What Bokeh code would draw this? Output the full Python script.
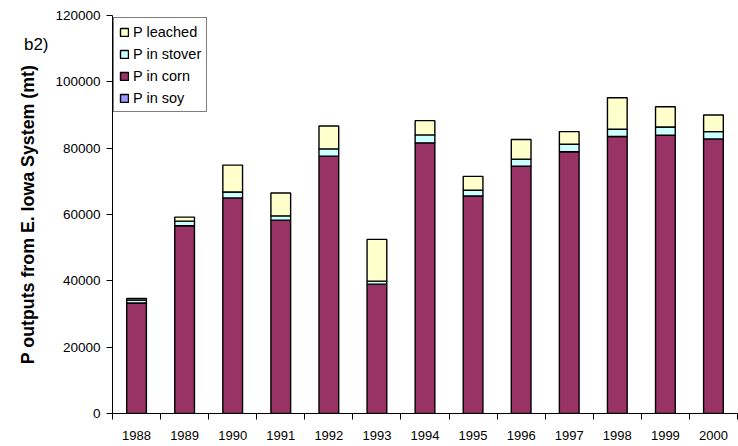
from bokeh.plotting import figure
from bokeh.models import (ColumnDataSource, FixedTicker, Legend, LegendItem,
                          Range1d, LinearAxis, BasicTickFormatter)
from bokeh.embed import file_html
from bokeh.resources import INLINE

years = ["1988", "1989", "1990", "1991", "1992", "1993", "1994",
         "1995", "1996", "1997", "1998", "1999", "2000"]
p_soy = [0, 0, 0, 0, 0, 0, 0, 0, 0, 0, 0, 0, 0]
p_corn = [33300, 56600, 65000, 58300, 77600, 39000, 81600, 65600, 74600, 78900, 83500, 83900, 82800]
p_stover = [900, 1400, 1800, 1300, 2200, 900, 2400, 1700, 2100, 2300, 2200, 2500, 2200]
p_leached = [500, 1200, 8100, 6900, 6900, 12600, 4300, 4200, 5900, 3800, 9500, 6100, 5000]
y_ticks = [0, 20000, 40000, 60000, 80000, 100000, 120000]
panel_tag = "b2)"
panel_tag_y = 111400

colors = {"soy": "#9999FF", "corn": "#993366", "stover": "#CCFFFF", "leached": "#FFFFCC"}

xs = list(range(len(years)))
src = ColumnDataSource(dict(x=xs, soy=p_soy, corn=p_corn, stover=p_stover, leached=p_leached))

FONT = "Liberation Sans"

p = figure(width=738, height=446, output_backend="svg", toolbar_location=None,
           x_range=Range1d(-0.5, len(years) - 0.5), y_range=Range1d(0, 120000),
           min_border_left=112, min_border_right=1, min_border_top=15, min_border_bottom=33,
           x_axis_type=None, y_axis_type=None)
p.outline_line_color = None
p.background_fill_color = "white"
p.border_fill_color = "white"

stackers = ["soy", "corn", "stover", "leached"]
renderers = p.vbar_stack(stackers, x="x", width=0.41, source=src,
                         color=[colors[s] for s in stackers],
                         line_color="black", line_width=1.4)
for r, s in zip(renderers, stackers):
    r.glyph.fill_color = colors[s]

# x axis: labels at bar centres, ticks between categories
xaxis = LinearAxis(ticker=FixedTicker(ticks=xs, minor_ticks=[i - 0.5 for i in range(len(years) + 1)]),
                   major_label_overrides={i: y for i, y in enumerate(years)})
xaxis.major_tick_line_color = None
xaxis.major_tick_in = 0
xaxis.major_tick_out = 0
xaxis.minor_tick_in = 0
xaxis.minor_tick_out = 6
xaxis.minor_tick_line_color = "black"
xaxis.axis_line_color = "black"
xaxis.major_label_text_font = FONT
xaxis.major_label_text_font_size = "13px"
xaxis.major_label_text_color = "black"
xaxis.major_label_standoff = 11
p.add_layout(xaxis, "below")

yaxis = LinearAxis(ticker=FixedTicker(ticks=y_ticks), axis_label="P outputs from E. Iowa System (mt)",
                   formatter=BasicTickFormatter(use_scientific=False))
yaxis.major_tick_in = 0
yaxis.major_tick_out = 6
yaxis.minor_tick_line_color = None
yaxis.axis_line_color = "black"
yaxis.major_tick_line_color = "black"
yaxis.major_label_text_font = FONT
yaxis.major_label_text_font_size = "13.5px"
yaxis.major_label_text_color = "black"
yaxis.major_label_standoff = 6
yaxis.axis_label_text_font = FONT
yaxis.axis_label_text_font_size = "17.8px"
yaxis.axis_label_text_font_style = "bold"
yaxis.axis_label_text_color = "black"
yaxis.axis_label_standoff = 14
p.add_layout(yaxis, "left")

# panel tag "b2)" as the only tick label of an extra, line-less left axis
tag_axis = LinearAxis(ticker=FixedTicker(ticks=[panel_tag_y]),
                      major_label_overrides={panel_tag_y: panel_tag})
tag_axis.axis_line_color = None
tag_axis.major_tick_line_color = None
tag_axis.minor_tick_line_color = None
tag_axis.major_tick_in = 0
tag_axis.major_tick_out = 0
tag_axis.major_label_standoff = -33
tag_axis.major_label_text_font = FONT
tag_axis.major_label_text_font_size = "17px"
tag_axis.major_label_text_color = "black"
p.add_layout(tag_axis, "left")

p.ygrid.ticker = FixedTicker(ticks=y_ticks)
p.ygrid.grid_line_color = "black"
p.ygrid.grid_line_width = 1
p.xgrid.grid_line_color = None

legend = Legend(items=[LegendItem(label="P leached", renderers=[renderers[3]]),
                       LegendItem(label="P in stover", renderers=[renderers[2]]),
                       LegendItem(label="P in corn", renderers=[renderers[1]]),
                       LegendItem(label="P in soy", renderers=[renderers[0]])],
                location=(1, 301))
legend.border_line_color = "black"
legend.border_line_width = 1
legend.background_fill_color = "white"
legend.background_fill_alpha = 1
legend.label_text_font = FONT
legend.label_text_font_size = "14.5px"
legend.label_text_color = "black"
legend.glyph_width = 10
legend.glyph_height = 10
legend.label_height = 17
legend.label_standoff = 4
legend.spacing = 5
legend.padding = 5
legend.margin = 0
p.add_layout(legend, "center")

open("out.html", "w").write(file_html(p, INLINE))
